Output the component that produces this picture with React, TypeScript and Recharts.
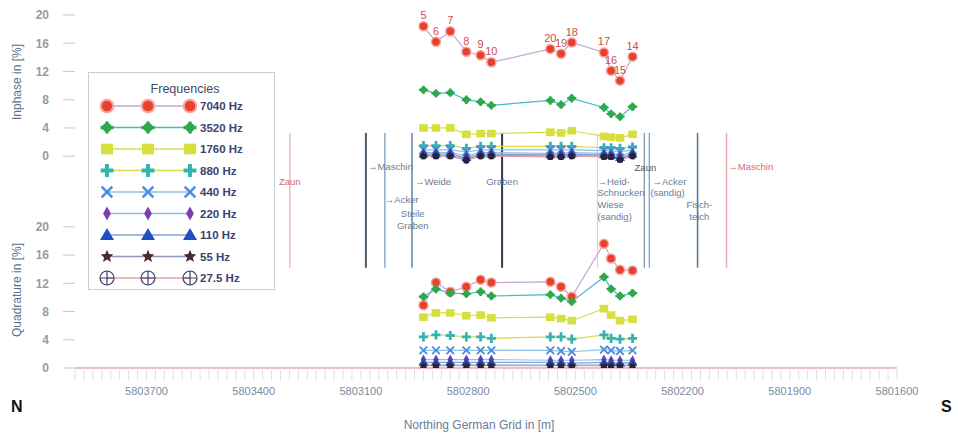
import React from 'react';
import {
  ComposedChart,
  Line,
  XAxis,
  YAxis,
  ReferenceLine,
  ReferenceDot,
  LabelList,
  Legend,
} from 'recharts';

// station numbers along the profile and their northing (German Grid, m)
const stations = [5, 6, 7, 8, 9, 10, 20, 19, 18, 17, 16, 15, 14];
const northing = [
  5802925, 5802890, 5802850, 5802805, 5802765, 5802735, 5802570, 5802540, 5802510, 5802420,
  5802400, 5802375, 5802340,
];

const frequencies = ['7040 Hz', '3520 Hz', '1760 Hz', '880 Hz', '440 Hz', '220 Hz', '110 Hz', '55 Hz', '27.5 Hz'];

// Inphase in [%]
const inphase7040 = [18.4, 16.2, 17.7, 14.8, 14.3, 13.3, 15.2, 14.5, 16.1, 14.7, 12.1, 10.7, 14.1];
const inphase3520 = [9.4, 8.9, 9.0, 8.0, 7.7, 7.2, 7.9, 7.3, 8.2, 6.9, 6.0, 5.6, 7.0];
const inphase1760 = [4.0, 4.0, 4.0, 3.1, 3.2, 3.2, 3.4, 3.3, 3.6, 2.8, 2.7, 2.6, 3.1];
const inphase880 = [1.5, 1.5, 1.5, 1.1, 1.4, 1.4, 1.4, 1.4, 1.4, 1.2, 1.2, 1.1, 1.3];
const inphase440 = [0.9, 0.9, 0.9, 0.6, 0.9, 0.9, 0.9, 0.9, 0.9, 0.8, 0.8, 0.6, 0.9];
const inphase220 = [0.5, 0.5, 0.5, 0.1, 0.5, 0.5, 0.4, 0.4, 0.5, 0.4, 0.3, 0.1, 0.5];
const inphase110 = [0.3, 0.3, 0.3, -0.2, 0.3, 0.3, 0.2, 0.2, 0.3, 0.2, 0.1, -0.2, 0.3];
const inphase55 = [0.1, 0.1, 0.1, -0.4, 0.1, 0.1, 0.0, 0.0, 0.1, 0.0, 0.0, -0.4, 0.1];
const inphase27 = [0.0, 0.0, 0.0, -0.6, 0.0, 0.0, -0.1, -0.1, 0.0, -0.1, -0.1, -0.5, 0.0];

// Quadrature in [%]
const quad7040 = [8.9, 12.1, 10.8, 11.5, 12.5, 12.1, 12.2, 11.5, 10.1, 17.6, 15.5, 13.9, 13.8];
const quad3520 = [10.1, 11.2, 10.6, 10.5, 10.8, 10.2, 10.4, 9.9, 9.4, 12.9, 11.2, 10.2, 10.6];
const quad1760 = [7.2, 7.8, 7.8, 7.4, 7.5, 7.1, 7.2, 7.0, 6.7, 8.4, 7.5, 6.7, 6.9];
const quad880 = [4.4, 4.7, 4.6, 4.4, 4.4, 4.2, 4.4, 4.4, 4.1, 4.7, 4.2, 4.1, 4.2];
const quad440 = [2.5, 2.5, 2.5, 2.5, 2.5, 2.5, 2.5, 2.4, 2.3, 2.6, 2.5, 2.4, 2.5];
const quad220 = [1.2, 1.2, 1.2, 1.2, 1.2, 1.2, 1.1, 1.1, 1.1, 1.2, 1.1, 1.1, 1.1];
const quad110 = [0.8, 0.8, 0.8, 0.8, 0.8, 0.8, 0.8, 0.8, 0.7, 0.8, 0.8, 0.7, 0.8];
const quad55 = [0.4, 0.4, 0.4, 0.4, 0.4, 0.4, 0.4, 0.4, 0.4, 0.4, 0.4, 0.4, 0.4];
const quad27 = [0.1, 0.1, 0.1, 0.1, 0.1, 0.1, 0.1, 0.1, 0.1, 0.1, 0.1, 0.1, 0.1];

const inphase = [inphase7040, inphase3520, inphase1760, inphase880, inphase440, inphase220, inphase110, inphase55, inphase27];
const quadrature = [quad7040, quad3520, quad1760, quad880, quad440, quad220, quad110, quad55, quad27];

const xLabels = [5803700, 5803400, 5803100, 5802800, 5802500, 5802200, 5801900, 5801600];
const yLabels = [0, 4, 8, 12, 16, 20];

// landmarks crossing the gap between the panels
const landmarks = [
  { northing: 5803345, color: '#a9cbe3', width: 1.4 },
  { northing: 5803299, color: '#f1b3ba', width: 1.4 },
  { northing: 5803086, color: '#4c5b6c', width: 2 },
  { northing: 5803033, color: '#8eaac4', width: 1.5 },
  { northing: 5802957, color: '#6c8cab', width: 1.6 },
  { northing: 5802705, color: '#2c3b4c', width: 2 },
  { northing: 5802438, color: '#efc9d1', width: 1.2 },
  { northing: 5802307, color: '#8c9cac', width: 1.4 },
  { northing: 5802293, color: '#7babd3', width: 1.4 },
  { northing: 5802158, color: '#5b7b9b', width: 1.6 },
  { northing: 5802077, color: '#eba3ab', width: 1.4 },
];

const notes = [
  { northing: 5803299, text: 'Zaun', level: 26.4, anchor: 'middle', color: '#cf6a78' },
  { northing: 5803080, text: '\u2192Maschin', level: 28.5, anchor: 'start', color: '#6b7c95' },
  { northing: 5803033, text: '\u2192Acker', level: 23.8, anchor: 'start', color: '#6b7c95' },
  { northing: 5802955, text: 'Steile', level: 21.8, anchor: 'middle', color: '#6b7c95' },
  { northing: 5802955, text: 'Graben', level: 20.1, anchor: 'middle', color: '#6b7c95' },
  { northing: 5802949, text: '\u2192Weide', level: 26.4, anchor: 'start', color: '#6b7c95' },
  { northing: 5802705, text: 'Graben', level: 26.4, anchor: 'middle', color: '#6b7c95' },
  { northing: 5802438, text: '\u2192Heid-', level: 26.4, anchor: 'start', color: '#6b7c95' },
  { northing: 5802438, text: 'Schnucken', level: 24.9, anchor: 'start', color: '#6b7c95' },
  { northing: 5802438, text: 'Wiese', level: 23.1, anchor: 'start', color: '#6b7c95' },
  { northing: 5802438, text: '(sandig)', level: 21.4, anchor: 'start', color: '#6b7c95' },
  { northing: 5802304, text: 'Zaun', level: 28.4, anchor: 'middle', color: '#4f5866' },
  { northing: 5802284, text: '\u2192Acker', level: 26.4, anchor: 'start', color: '#6b7c95' },
  { northing: 5802290, text: '(sandig)', level: 24.9, anchor: 'start', color: '#6b7c95' },
  { northing: 5802153, text: 'Fisch-', level: 23.1, anchor: 'middle', color: '#6b7c95' },
  { northing: 5802153, text: 'teich', level: 21.4, anchor: 'middle', color: '#6b7c95' },
  { northing: 5802072, text: '\u2192Maschin', level: 28.5, anchor: 'start', color: '#cf6a78' },
];

type Kind = 'circle' | 'pluscircle' | 'square' | 'plus' | 'cross' | 'diamond' | 'triangle' | 'star' | 'oplus';

const markers: { kind: Kind; fill: string; line: string }[] = [
  { kind: 'circle', fill: '#e6412f', line: '#c4a6d2' },
  { kind: 'pluscircle', fill: '#2ea84a', line: '#45b8cf' },
  { kind: 'square', fill: '#d6df3c', line: '#d2de58' },
  { kind: 'plus', fill: '#34b4b0', line: '#d3dd4e' },
  { kind: 'cross', fill: '#4b8fe2', line: '#92bfe6' },
  { kind: 'diamond', fill: '#7b3db3', line: '#92bfe6' },
  { kind: 'triangle', fill: '#1f4fc2', line: '#7ba6dc' },
  { kind: 'star', fill: '#4b2b33', line: '#8e98b8' },
  { kind: 'oplus', fill: '#3c3f6a', line: '#ee9aa4' },
];

const PANEL_GAP = 10; // empty units between quadrature top and inphase zero

const rows = northing.map((n, i) => {
  const row: Record<string, number> = { northing: n, station: stations[i] };
  frequencies.forEach((_, f) => {
    row[`ip${f}`] = inphase[f][i];
    row[`qd${f}`] = quadrature[f][i];
  });
  return row;
});

const xTicks: number[] = [];
for (let v = 5801600; v <= 5803900; v += 25) xTicks.push(v);

const frameTicks = [...yLabels, ...yLabels.map((v) => v + 20 + PANEL_GAP)];

function starPath(x: number, y: number, r: number) {
  let d = '';
  for (let i = 0; i < 10; i++) {
    const a = ((-90 + i * 36) * Math.PI) / 180;
    const rr = i % 2 ? r * 0.45 : r;
    d += `${i ? 'L' : 'M'}${x + rr * Math.cos(a)},${y + rr * Math.sin(a)}`;
  }
  return d + 'Z';
}

function Marker({ kind, x, y, fill, s }: { kind: Kind; x: number; y: number; fill: string; s: number }) {
  const d = (v: number) => v * s;
  switch (kind) {
    case 'circle':
      return <circle cx={x} cy={y} r={d(4.5)} fill={fill} stroke="#f5a59d" strokeWidth={d(1.5)} />;
    case 'pluscircle':
      return (
        <g>
          <circle cx={x} cy={y} r={d(3.2)} fill={fill} />
          <path d={`M${x - d(4.6)},${y}H${x + d(4.6)}M${x},${y - d(4.2)}V${y + d(4.2)}`} stroke={fill} strokeWidth={d(2.4)} />
        </g>
      );
    case 'square':
      return <rect x={x - d(4.3)} y={y - d(3.8)} width={d(8.6)} height={d(7.6)} fill={fill} />;
    case 'plus':
      return <path d={`M${x - d(4.6)},${y}H${x + d(4.6)}M${x},${y - d(4.6)}V${y + d(4.6)}`} stroke={fill} strokeWidth={d(2.8)} />;
    case 'cross':
      return (
        <path
          d={`M${x - d(3.8)},${y - d(3.8)}L${x + d(3.8)},${y + d(3.8)}M${x + d(3.8)},${y - d(3.8)}L${x - d(3.8)},${y + d(3.8)}`}
          stroke={fill}
          strokeWidth={d(1.9)}
        />
      );
    case 'diamond':
      return <path d={`M${x},${y - d(5)}L${x + d(2.8)},${y}L${x},${y + d(5)}L${x - d(2.8)},${y}Z`} fill={fill} />;
    case 'triangle':
      return <path d={`M${x},${y - d(5)}L${x + d(5)},${y + d(3.5)}L${x - d(5)},${y + d(3.5)}Z`} fill={fill} />;
    case 'star':
      return <path d={starPath(x, y, d(4.8))} fill={fill} />;
    default:
      return (
        <g fill="none" stroke={fill} strokeWidth={1.2}>
          <circle cx={x} cy={y} r={d(5)} />
          <path d={`M${x - d(5)},${y}H${x + d(5)}M${x},${y - d(5)}V${y + d(5)}`} />
        </g>
      );
  }
}

// in the panels the 27.5 Hz symbols are drawn small and dark, as in the scan
const makeDot = (f: number) => (props: any) => {
  const { cx, cy, index } = props;
  if (cx == null || cy == null) return <g key={`n-${index}`} />;
  const m = markers[f];
  if (m.kind === 'oplus') {
    return <circle key={`d-${f}-${index}`} cx={cx} cy={cy} r={3.2} fill="#24243e" />;
  }
  return (
    <g key={`d-${f}-${index}`}>
      <Marker kind={m.kind} x={cx} y={cy} fill={m.fill} s={1} />
    </g>
  );
};

const renderLegend = () => (
  <div style={{ width: 187, height: 218, border: '1.5px solid #c3d0de', background: '#fff', boxSizing: 'border-box' }}>
    <svg width={184} height={215}>
      <text x={96} y={20} textAnchor="middle" fontSize={12.5} fill="#3d4a66">
        Frequencies
      </text>
      {frequencies.map((label, i) => {
        const y = 33 + i * 21.5;
        return (
          <g key={label}>
            <line x1={18} x2={101} y1={y} y2={y} stroke={markers[i].line} strokeWidth={1.3} />
            {[18, 59, 101].map((x) => (
              <Marker key={x} kind={markers[i].kind} x={x} y={y} fill={markers[i].fill} s={1.4} />
            ))}
            <text x={111} y={y + 4} fontSize={11.5} fontWeight="bold" fill="#3a4270">
              {label}
            </text>
          </g>
        );
      })}
    </svg>
  </div>
);

const axisText = { fill: '#6b7c95', fontSize: 12 };

export default function App() {
  return (
    <div
      style={{
        position: 'absolute',
        left: 0,
        top: 0,
        width: 958,
        height: 433,
        background: '#fff',
        fontFamily: '"Liberation Sans", Arial, sans-serif',
      }}
    >
      <ComposedChart width={958} height={433} data={rows} margin={{ top: 15, right: 61, bottom: 2, left: 20 }}>
        <XAxis
          dataKey="northing"
          type="number"
          domain={[5801600, 5803900]}
          allowDataOverflow
          reversed
          ticks={xTicks}
          interval={0}
          tickFormatter={(v: number) => (xLabels.includes(v) ? String(v) : '')}
          height={63}
          axisLine={{ stroke: '#f0bcc4', strokeWidth: 2 }}
          tickLine={{ stroke: '#e8dbe1' }}
          tickSize={12}
          tickMargin={7}
          tick={{ fill: '#7c8aa0', fontSize: 11 }}
          label={{ value: 'Northing German Grid in [m]', position: 'insideBottom', offset: 2, dx: -7, ...axisText }}
        />
        <YAxis
          yAxisId="frame"
          type="number"
          domain={[0, 40 + PANEL_GAP]}
          allowDataOverflow
          ticks={frameTicks}
          interval={0}
          tickFormatter={(v: number) => String(v > 20 ? v - 20 - PANEL_GAP : v)}
          width={55}
          axisLine={false}
          tickLine={{ stroke: '#c5c9d2' }}
          tickSize={12}
          tickMargin={14}
          tick={{ fill: '#9a9ba3', fontSize: 12, fontWeight: 'bold' }}
        />
        <YAxis yAxisId="inphase" type="number" hide domain={[-20 - PANEL_GAP, 20]} allowDataOverflow />

        {landmarks.map((l) => (
          <ReferenceLine
            key={`lm-${l.northing}`}
            yAxisId="frame"
            segment={[
              { x: l.northing, y: 14.2 },
              { x: l.northing, y: 33.3 },
            ]}
            stroke={l.color}
            strokeWidth={l.width}
            ifOverflow="visible"
          />
        ))}
        {notes.map((n, i) => (
          <ReferenceDot
            key={`note-${i}`}
            yAxisId="frame"
            x={n.northing}
            y={n.level}
            r={0}
            ifOverflow="visible"
            shape={(p: any) => (
              <text x={p.cx} y={p.cy} dy="0.35em" textAnchor={n.anchor as any} fontSize={9.5} fill={n.color}>
                {n.text}
              </text>
            )}
          />
        ))}

        {frequencies.map((f, i) => (
          <Line
            key={`qd-${f}`}
            yAxisId="frame"
            dataKey={`qd${i}`}
            stroke={markers[i].line}
            strokeWidth={1.2}
            dot={makeDot(i)}
            activeDot={false}
            isAnimationActive={false}
          />
        ))}
        {frequencies.map((f, i) => (
          <Line
            key={`ip-${f}`}
            yAxisId="inphase"
            dataKey={`ip${i}`}
            stroke={markers[i].line}
            strokeWidth={1.2}
            dot={makeDot(i)}
            activeDot={false}
            isAnimationActive={false}
          >
            {i === 0 && <LabelList dataKey="station" position="top" offset={7} fill="#d24b4b" fontSize={11} />}
          </Line>
        ))}

        <Legend
          content={renderLegend}
          layout="horizontal"
          verticalAlign="middle"
          align="center"
          wrapperStyle={{ left: 88, top: 72, width: 187, height: 218 }}
        />
      </ComposedChart>

      <div
        style={{
          position: 'absolute',
          left: 17,
          top: 82,
          transform: 'translate(-50%, -50%) rotate(-90deg)',
          whiteSpace: 'nowrap',
          fontSize: 12,
          color: '#5b6f8e',
        }}
      >
        Inphase in [%]
      </div>
      <div
        style={{
          position: 'absolute',
          left: 17,
          top: 290,
          transform: 'translate(-50%, -50%) rotate(-90deg)',
          whiteSpace: 'nowrap',
          fontSize: 12,
          color: '#5b6f8e',
        }}
      >
        Quadrature in [%]
      </div>
      <div style={{ position: 'absolute', left: 11, top: 398, fontSize: 16, fontWeight: 'bold', color: '#111' }}>N</div>
      <div style={{ position: 'absolute', left: 941, top: 398, fontSize: 16, fontWeight: 'bold', color: '#111' }}>S</div>
    </div>
  );
}
